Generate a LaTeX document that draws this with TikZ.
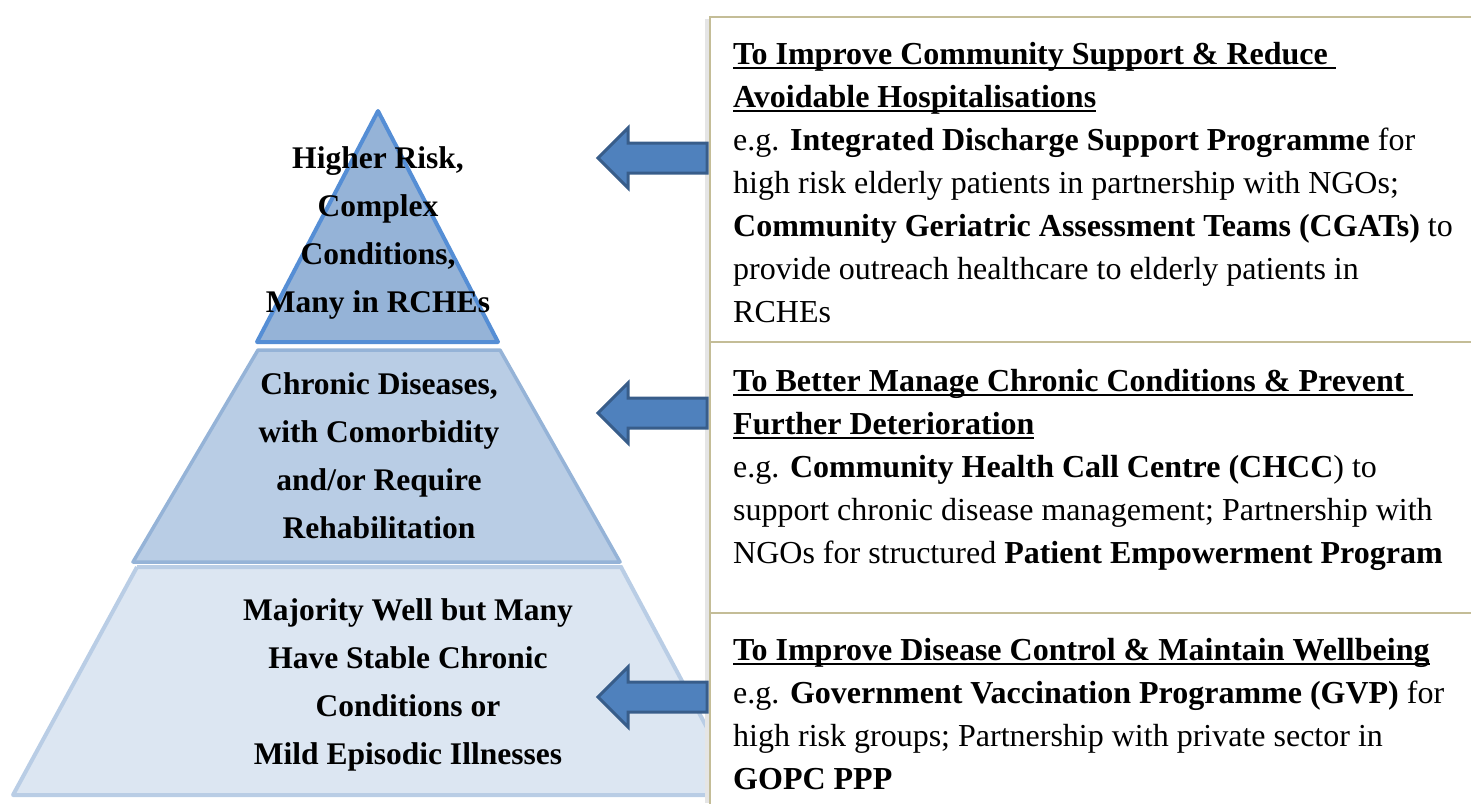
\documentclass[tikz,border=0pt]{standalone}
\usepackage{fontspec}
\setmainfont{Liberation Serif}
\definecolor{triA}{HTML}{95B3D7}
\definecolor{triAline}{HTML}{558ED5}
\definecolor{triB}{HTML}{B9CDE5}
\definecolor{triC}{HTML}{DCE6F2}
\definecolor{arrfill}{HTML}{4F81BD}
\definecolor{arrline}{HTML}{385D8A}
\definecolor{boxline}{HTML}{C4BD97}
\newcommand\myul[1]{\setbox0\hbox{#1}\rlap{\rule[-5pt]{\wd0}{2.6pt}}\box0}
\tikzset{
  pyrtext/.style={align=center, font=\fontsize{31.5}{48}\selectfont\bfseries, inner sep=0pt},
  boxtext/.style={align=left, anchor=north west, font=\fontsize{32}{43}\selectfont, inner sep=0pt},
  sidebox/.style={draw=boxline, line width=2pt, fill=white},
  bigarrow/.style={fill=arrfill, draw=arrline, line width=3pt, line join=miter}
}
\begin{document}
\begin{tikzpicture}[x=1pt,y=-1pt]
\useasboundingbox (0,0) rectangle (1471,803);
% pyramid
\fill[triC] (137,567) -- (621,567) -- (743,795) -- (13,795) -- cycle;
\draw[triB, line width=4pt, line join=round] (137,567) -- (13,795) -- (743,795);
\draw[triB, line width=4pt] (137,567) -- (621,567) -- (743,795);
\filldraw[fill=triB, draw=triA, line width=3.5pt, line join=round] (258,350) -- (500,350) -- (620,562) -- (133,562) -- cycle;
\filldraw[fill=triA, draw=triAline, line width=4pt, line join=round] (378,111) -- (498,342) -- (257,342) -- cycle;
\node[pyrtext] (t1) at (378,233) {Higher Risk,\\Complex\\Conditions,\\Many in RCHEs};
\node[pyrtext] (t2) at (379,456) {Chronic Diseases,\\with Comorbidity\\and/or Require\\Rehabilitation};
\node[pyrtext] (t3) at (408,685) {Majority Well but Many\\Have Stable Chronic\\Conditions or\\Mild Episodic Illnesses};
% boxes
\fill[black!10] (705,19) rectangle (712,803);
\draw[sidebox] (710,17) rectangle (1480,342);
\draw[sidebox] (710,342) rectangle (1480,613);
\draw[sidebox] (710,613) rectangle (1480,810);
\node[boxtext] (b1) at (733,42) {\textbf{\myul{To Improve Community Support \& Reduce }}\\
\textbf{\myul{Avoidable Hospitalisations}}\\
e.g. \textbf{Integrated Discharge Support Programme} for\\
high risk elderly patients in partnership with NGOs;\\
\textbf{Community Geriatric Assessment Teams (CGATs)} to\\
provide outreach healthcare to elderly patients in\\
RCHEs};
\node[boxtext] (b2) at (733,369) {\textbf{\myul{To Better Manage Chronic Conditions \& Prevent }}\\
\textbf{\myul{Further Deterioration}}\\
e.g. \textbf{Community Health Call Centre (CHCC}) to\\
support chronic disease management; Partnership with\\
NGOs for structured \textbf{Patient Empowerment Program}};
\node[boxtext] (b3) at (733,638) {\textbf{\myul{To Improve Disease Control \& Maintain Wellbeing}}\\
e.g. \textbf{Government Vaccination Programme (GVP)} for\\
high risk groups; Partnership with private sector in\\
\textbf{GOPC PPP}};
% arrows
\foreach \n/\y in {a1/158,a2/413,a3/697}{
  \coordinate (\n tip) at (598,\y);
  \draw[bigarrow] (\n tip) -- ++(30,-30) -- ++(0,15) -- ++(79,0) -- ++(0,30) -- ++(-79,0) -- ++(0,15) -- cycle;
}
\end{tikzpicture}
\end{document}
